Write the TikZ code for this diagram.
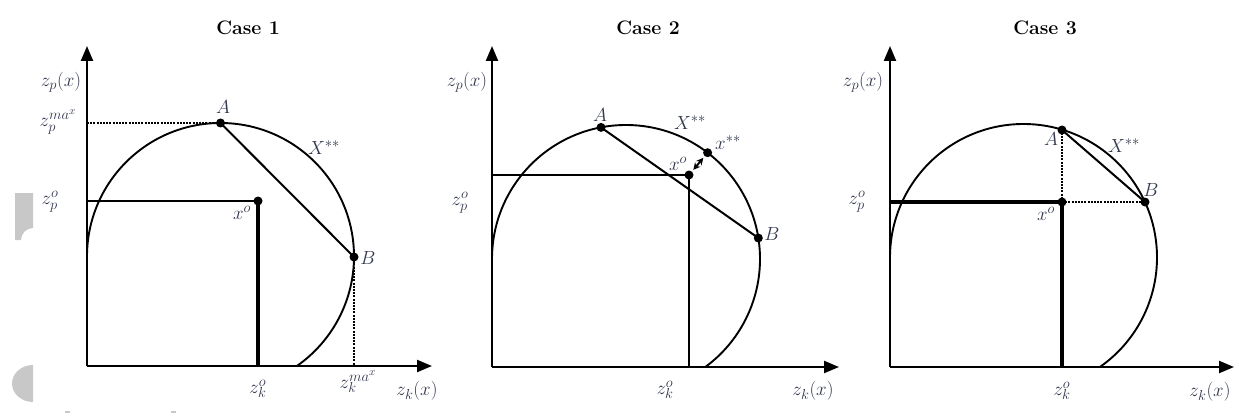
\documentclass[tikz,border=0pt]{standalone}
\usepackage{fix-cm}
\DeclareMathSizes{19}{19}{14.5}{11}
\usetikzlibrary{arrows.meta}
\definecolor{lab}{RGB}{50,55,78}
\definecolor{art}{RGB}{200,200,200}
\begin{document}
\begin{tikzpicture}[x=1pt,y=-1pt,
  axis/.style={line width=2.3pt,-{Triangle[length=15pt,width=12pt]}},
  curve/.style={line width=1.9pt},
  plain/.style={line width=2pt},
  bold/.style={line width=3.2pt},
  dots/.style={line width=2.6pt,dash pattern=on 2pt off 1.2pt},
  dot/.style={circle,fill=black,inner sep=0pt,minimum size=9pt},
  lbl/.style={text=lab,inner sep=0pt,font=\fontsize{19}{22}\selectfont},
  ttl/.style={inner sep=0pt,font=\fontsize{19.5}{22}\selectfont\bfseries},
  dbl/.style={line width=2pt,{Stealth[length=7pt,width=7pt]}-{Stealth[length=7pt,width=7pt]},shorten <=2pt,shorten >=2pt}]
\useasboundingbox (0,0) rectangle (1239,417);

% page artefacts
\fill[art] (15,193) -- (33,193) -- (33,228) arc[start angle=270,end angle=180,radius=12] -- (15,240) -- cycle;
\fill[art] (33,365) arc[start angle=270,end angle=90,x radius=21,y radius=18.5] -- cycle;
\fill[art] (65,411) rectangle (70,413);
\fill[art] (171,411) rectangle (176,413);

% ---------------- Case 1 ----------------
\node[ttl] (t1) at (248,28) {Case 1};
\coordinate (o1) at (87,366);
\coordinate (y1) at (87,46);
\coordinate (x1) at (432,366);
\draw[axis] (o1) -- (y1);
\draw[axis] (o1) -- (x1);
\draw[curve] (87,256.5) arc[start angle=180,end angle=415,radius=133.5];
\node[dot] (A1) at (220.5,123) {};
\node[dot] (B1) at (354,257) {};
\node[dot] (xo1) at (258,201) {};
\coordinate (ya1) at (87,123);
\coordinate (yo1) at (87,201);
\coordinate (xb1) at (354,366);
\coordinate (xk1) at (258,366);
\draw[dots] (ya1) -- (A1.center);
\draw[dots] (B1.center) -- (xb1);
\draw[plain] (yo1) -- (xo1.center);
\draw[bold] (xo1.center) -- (xk1);
\draw[plain] (A1.center) -- (B1.center);
\node[lbl] (l1a) at (223,107) {$A$};
\node[lbl] (l1b) at (368,258) {$B$};
\node[lbl] (l1X) at (324,148) {$X^{**}$};
\node[lbl] (l1xo) at (242,213) {$x^{o}$};
\node[lbl] (l1zp) at (61,82) {$z_p(x)$};
\node[lbl] (l1zpm) at (58,122) {$z_p^{ma^{x}}$};
\node[lbl] (l1zpo) at (50,202) {$z_p^{o}$};
\node[lbl] (l1zko) at (258,389) {$z_k^{o}$};
\node[lbl] (l1zkm) at (358,382) {$z_k^{ma^{x}}$};
\node[lbl] (l1zk) at (417,391) {$z_k(x)$};

% ---------------- Case 2 ----------------
\node[ttl] (t2) at (648,28) {Case 2};
\coordinate (o2) at (492,367);
\coordinate (y2) at (492,46);
\coordinate (x2) at (839,367);
\draw[axis] (o2) -- (y2);
\draw[axis] (o2) -- (x2);
\draw[curve] (492,259) arc[start angle=180,end angle=413.7,radius=134];
\node[dot] (A2) at (601,127.4) {};
\node[dot] (B2) at (758.3,238) {};
\node[dot] (xs2) at (707.6,152.7) {};
\node[dot] (xo2) at (689,175) {};
\coordinate (yo2) at (492,175);
\coordinate (xk2) at (689,367);
\draw[plain] (yo2) -- (xo2.center);
\draw[plain] (xo2.center) -- (xk2);
\draw[plain] (A2.center) -- (B2.center);
\draw[dbl] (xo2) -- (xs2);
\node[lbl] (l2a) at (600,115) {$A$};
\node[lbl] (l2b) at (772,234) {$B$};
\node[lbl] (l2X) at (690,123) {$X^{**}$};
\node[lbl] (l2xs) at (728,143) {$x^{**}$};
\node[lbl] (l2xo) at (678,164) {$x^{o}$};
\node[lbl] (l2zp) at (467,82) {$z_p(x)$};
\node[lbl] (l2zpo) at (460,203) {$z_p^{o}$};
\node[lbl] (l2zko) at (665,390) {$z_k^{o}$};
\node[lbl] (l2zk) at (813,391) {$z_k(x)$};

% ---------------- Case 3 ----------------
\node[ttl] (t3) at (1045,28) {Case 3};
\coordinate (o3) at (890,367);
\coordinate (y3) at (890,46);
\coordinate (x3) at (1234,367);
\draw[axis] (o3) -- (y3);
\draw[axis] (o3) -- (x3);
\draw[curve] (890,257.5) arc[start angle=180,end angle=415,radius=133.5];
\node[dot] (A3) at (1062,130) {};
\node[dot] (B3) at (1145,202) {};
\node[dot] (xo3) at (1062,202) {};
\coordinate (yo3) at (890,202);
\coordinate (xk3) at (1062,367);
\draw[bold] (yo3) -- (xo3.center);
\draw[bold] (xo3.center) -- (xk3);
\draw[dots] (xo3.center) -- (A3.center);
\draw[dots] (xo3.center) -- (B3.center);
\draw[plain] (A3.center) -- (B3.center);
\node[lbl] (l3a) at (1051,139) {$A$};
\node[lbl] (l3b) at (1151,190) {$B$};
\node[lbl] (l3X) at (1124,146) {$X^{**}$};
\node[lbl] (l3xo) at (1046,214) {$x^{o}$};
\node[lbl] (l3zp) at (863,82) {$z_p(x)$};
\node[lbl] (l3zpo) at (857,202) {$z_p^{o}$};
\node[lbl] (l3zko) at (1062,391) {$z_k^{o}$};
\node[lbl] (l3zk) at (1210,392) {$z_k(x)$};
\end{tikzpicture}
\end{document}
